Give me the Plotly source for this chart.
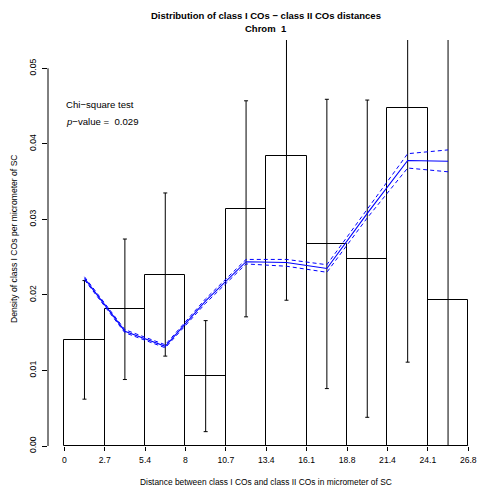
import plotly.graph_objects as go

# ---------------- data ----------------
bin_edges = [0, 2.68, 5.36, 8.04, 10.72, 13.4, 16.08, 18.76, 21.44, 24.12, 26.8]
tick_labels = ["0", "2.7", "5.4", "8", "10.7", "13.4", "16.1", "18.8", "21.4", "24.1", "26.8"]
density = [0.0140, 0.0181, 0.0227, 0.0093, 0.0314, 0.0384, 0.0268, 0.0247, 0.0448, 0.0193]
ci_low = [0.0062, 0.0088, 0.0119, 0.0019, 0.0171, 0.0193, 0.0076, 0.0038, 0.0111, -0.0020]
ci_high = [0.0219, 0.0274, 0.0335, 0.0166, 0.0457, 0.0575, 0.0459, 0.0458, 0.0782, 0.0570]
fit = [0.0222, 0.0152, 0.0132, 0.0192, 0.0244, 0.0243, 0.0235, 0.0308, 0.0378, 0.0377]
fit_upper = [0.0224, 0.0154, 0.0134, 0.0195, 0.0247, 0.0247, 0.0240, 0.0314, 0.0387, 0.0392]
fit_lower = [0.0220, 0.0150, 0.0130, 0.0189, 0.0241, 0.0238, 0.0230, 0.0302, 0.0368, 0.0363]
y_ticks = [0.00, 0.01, 0.02, 0.03, 0.04, 0.05]
y_tick_labels = ["0.00", "0.01", "0.02", "0.03", "0.04", "0.05"]
p_value = 0.029

title1 = "Distribution of class I COs \u2212 class II COs distances"
title2 = "Chrom  1"
x_title = "Distance between class I COs and class II COs in micrometer of SC"
y_title = "Density of class I COs per micrometer of SC"

# ---------------- layout geometry ----------------
W, H = 477, 491
ML, MR, MT, MB = 48, 0, 40, 45
PW, PH = W - ML - MR, H - MT - MB
XR = [-1.08, 27.38]
YR = [0, 0.05375]
FONT = "Liberation Sans, Arial, Helvetica, sans-serif"


def px_x(px):
    return (px - ML) / PW


def px_y(py):
    return (H - MB - py) / PH


centers = [(bin_edges[i] + bin_edges[i + 1]) / 2 for i in range(len(density))]
widths = [bin_edges[i + 1] - bin_edges[i] for i in range(len(density))]

fig = go.Figure()

fig.add_trace(go.Bar(
    x=centers, y=density, width=widths,
    marker=dict(color="rgba(255,255,255,0)", line=dict(color="black", width=1)),
    showlegend=False, hoverinfo="skip",
))

fig.add_trace(go.Scatter(
    x=centers, y=density, mode="markers",
    marker=dict(size=1, color="rgba(0,0,0,0)"),
    error_y=dict(
        type="data", symmetric=False,
        array=[h - d for h, d in zip(ci_high, density)],
        arrayminus=[d - l for d, l in zip(density, ci_low)],
        color="black", thickness=1, width=2,
    ),
    showlegend=False, hoverinfo="skip",
))

fig.add_trace(go.Scatter(
    x=centers, y=fit_upper, mode="lines",
    line=dict(color="#0000FF", width=1, dash="4px,3px"),
    showlegend=False, hoverinfo="skip",
))
fig.add_trace(go.Scatter(
    x=centers, y=fit_lower, mode="lines",
    line=dict(color="#0000FF", width=1, dash="4px,3px"),
    showlegend=False, hoverinfo="skip",
))
fig.add_trace(go.Scatter(
    x=centers, y=fit, mode="lines",
    line=dict(color="#0000FF", width=1.1),
    showlegend=False, hoverinfo="skip",
))

shapes = [
    dict(type="line", xref="x", yref="y", x0=bin_edges[0], x1=bin_edges[-1], y0=0, y1=0,
         line=dict(color="black", width=1)),
    dict(type="line", xref="paper", yref="y", x0=0, x1=0, y0=y_ticks[0], y1=y_ticks[-1],
         line=dict(color="black", width=1)),
]

annotations = [
    dict(text="<b>" + title1 + "</b>", xref="paper", yref="paper", x=px_x(266), y=px_y(15),
         xanchor="center", yanchor="middle", showarrow=False, font=dict(size=9.5, color="black")),
    dict(text="<b>" + title2 + "</b>", xref="paper", yref="paper", x=px_x(266), y=px_y(28),
         xanchor="center", yanchor="middle", showarrow=False, font=dict(size=9.5, color="black")),
    dict(text=x_title, xref="paper", yref="paper", x=px_x(266), y=px_y(482),
         xanchor="center", yanchor="middle", showarrow=False, font=dict(size=8.4, color="black")),
    dict(text=y_title, xref="paper", yref="paper", x=px_x(14), y=px_y(239), textangle=-90,
         xanchor="center", yanchor="middle", showarrow=False, font=dict(size=8.6, color="black")),
    dict(text="Chi\u2212square test", xref="paper", yref="paper", x=px_x(64), y=px_y(105),
         xanchor="left", yanchor="middle", showarrow=False, font=dict(size=9.6, color="black")),
    dict(text="<i>p</i>\u2212value =&nbsp; " + f"{p_value}", xref="paper", yref="paper",
         x=px_x(64), y=px_y(121),
         xanchor="left", yanchor="middle", showarrow=False, font=dict(size=9.6, color="black")),
]

fig.update_layout(
    width=W, height=H,
    margin=dict(l=ML, r=MR, t=MT, b=MB, pad=0),
    paper_bgcolor="white", plot_bgcolor="white",
    font=dict(family=FONT, color="black"),
    bargap=0,
    shapes=shapes,
    annotations=annotations,
    xaxis=dict(
        range=XR, tickvals=bin_edges, ticktext=tick_labels,
        ticks="outside", ticklen=4, tickwidth=1, tickcolor="black",
        showline=False, showgrid=False, zeroline=False,
        ticklabelstandoff=2,
        tickfont=dict(size=8.6, color="black"),
    ),
    yaxis=dict(
        range=YR, tickvals=y_ticks, ticktext=y_tick_labels, tickangle=-90,
        ticks="outside", ticklen=5, tickwidth=1, tickcolor="black",
        showline=False, showgrid=False, zeroline=False,
        ticklabelstandoff=3,
        tickfont=dict(size=8.6, color="black"),
    ),
)

fig.write_html("out.html")
